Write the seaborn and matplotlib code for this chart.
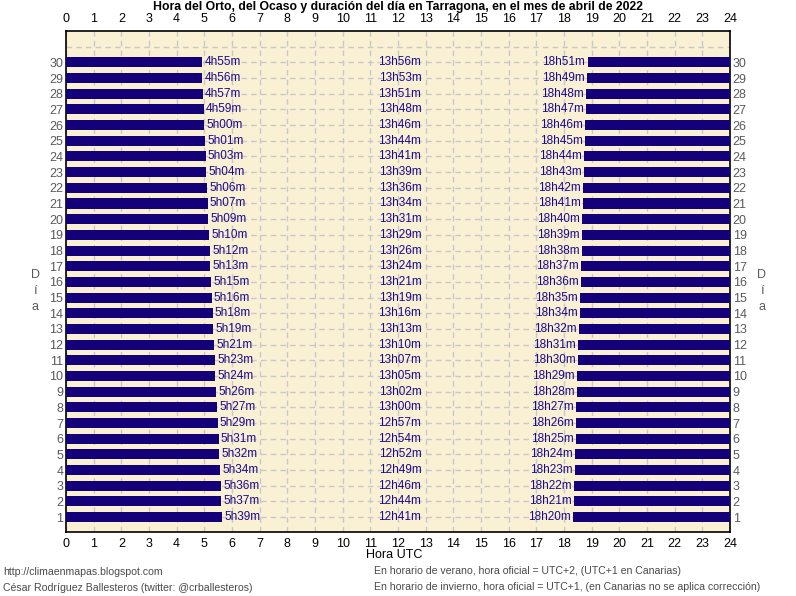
import matplotlib
matplotlib.use("Agg")
import matplotlib.pyplot as plt
import numpy as np
import pandas as pd
import seaborn as sns

# Data (April 2022, Tarragona), days 1..30
days = list(range(1, 31))
sunrise = ["5h39m", "5h37m", "5h36m", "5h34m", "5h32m", "5h31m", "5h29m", "5h27m", "5h26m", "5h24m",
           "5h23m", "5h21m", "5h19m", "5h18m", "5h16m", "5h15m", "5h13m", "5h12m", "5h10m", "5h09m",
           "5h07m", "5h06m", "5h04m", "5h03m", "5h01m", "5h00m", "4h59m", "4h57m", "4h56m", "4h55m"]
daylength = ["12h41m", "12h44m", "12h46m", "12h49m", "12h52m", "12h54m", "12h57m", "13h00m", "13h02m", "13h05m",
             "13h07m", "13h10m", "13h13m", "13h16m", "13h19m", "13h21m", "13h24m", "13h26m", "13h29m", "13h31m",
             "13h34m", "13h36m", "13h39m", "13h41m", "13h44m", "13h46m", "13h48m", "13h51m", "13h53m", "13h56m"]
sunset = ["18h20m", "18h21m", "18h22m", "18h23m", "18h24m", "18h25m", "18h26m", "18h27m", "18h28m", "18h29m",
          "18h30m", "18h31m", "18h32m", "18h34m", "18h35m", "18h36m", "18h37m", "18h38m", "18h39m", "18h40m",
          "18h41m", "18h42m", "18h43m", "18h44m", "18h45m", "18h46m", "18h47m", "18h48m", "18h49m", "18h51m"]
hours = list(range(0, 25))


def to_hours(s):
    h, m = s.rstrip("m").split("h")
    return int(h) + int(m) / 60.0


df = pd.DataFrame({"dia": days,
                   "orto": [to_hours(s) for s in sunrise],
                   "ocaso": [to_hours(s) for s in sunset]})

bar_col = "#140078"
txt_col = "#1a0a8c"
bg_col = "#faf0d4"
grid_col = "#c8c8c8"

sns.set_style("white")
plt.rcParams["font.family"] = ["Liberation Sans", "DejaVu Sans"]

fig = plt.figure(figsize=(7.96, 5.96), dpi=100)
ax = fig.add_axes([66 / 796, 1 - 532 / 596, 664 / 796, 501 / 596])
ax.set_facecolor(bg_col)

# sunrise bars: 0 -> orto
sns.barplot(data=df, x="orto", y="dia", orient="y", native_scale=True,
            color=bar_col, saturation=1, width=0.64, linewidth=0, ax=ax, zorder=3)
# sunset bars: ocaso -> 24
ax.barh(df["dia"], 24 - df["ocaso"], left=df["ocaso"], height=0.64,
        color=bar_col, linewidth=0, zorder=3)

fs = 9
lfs = 8.5
for d, r, l, s in zip(days, sunrise, daylength, sunset):
    ax.text(to_hours(r) + 0.08, d, r, color=txt_col, fontsize=lfs,
            ha="left", va="center", zorder=4)
    ax.text(12.07, d, l, color=txt_col, fontsize=lfs,
            ha="center", va="center", zorder=4)
    ax.text(to_hours(s) - 0.08, d, s, color=txt_col, fontsize=lfs,
            ha="right", va="center", zorder=4)

ax.set_xlim(0, 24)
ax.set_ylim(0.05, 32)
ax.set_xticks(hours)
ax.set_xticklabels([str(h) for h in hours])
ax.set_yticks(list(range(1, 32)))
ax.set_yticklabels([str(d) for d in days] + [""])
ax.grid(True, color=grid_col, linestyle=(0, (4, 3)), linewidth=1, zorder=1)
ax.set_axisbelow(True)

ax.tick_params(axis="x", top=True, labeltop=True, bottom=True, labelbottom=True,
               length=0, pad=4, labelsize=fs, labelcolor="black")
ax.tick_params(axis="y", left=True, right=True, labelleft=True, labelright=True,
               length=0, pad=2, labelsize=fs, labelcolor="#5a5a5a")
for sp in ax.spines.values():
    sp.set_visible(True)
    sp.set_color("black")
    sp.set_linewidth(1.2)

ax.set_xlabel("")
ax.set_ylabel("")

fig.text(398 / 796, 1 - 7 / 596, "Hora del Orto, del Ocaso y duración del día en Tarragona, en el mes de abril de 2022",
         ha="center", va="center", fontsize=8.8, fontweight="bold", color="black")
fig.text(394 / 796, 1 - 555 / 596, "Hora UTC", ha="center", va="center", fontsize=fs, color="black")

fig.text(35 / 796, 1 - 291 / 596, "D\ní\na", ha="center", va="center", fontsize=fs,
         color="#5a5a5a", linespacing=1.5)
fig.text(762 / 796, 1 - 291 / 596, "D\ní\na", ha="center", va="center", fontsize=fs,
         color="#5a5a5a", linespacing=1.5)

foot = "#4a4a4a"
ffs = 7.6
fig.text(3 / 796, 1 - 572 / 596, "http://climaenmapas.blogspot.com", ha="left", va="center",
         fontsize=ffs, color=foot)
fig.text(3 / 796, 1 - 588 / 596, "César Rodríguez Ballesteros (twitter: @crballesteros)", ha="left",
         va="center", fontsize=ffs, color=foot)
fig.text(374 / 796, 1 - 571 / 596, "En horario de verano, hora oficial = UTC+2, (UTC+1 en Canarias)",
         ha="left", va="center", fontsize=ffs, color=foot)
fig.text(374 / 796, 1 - 587 / 596,
         "En horario de invierno, hora oficial = UTC+1, (en Canarias no se aplica corrección)",
         ha="left", va="center", fontsize=ffs, color=foot)

fig.savefig("out.png", dpi=100)
